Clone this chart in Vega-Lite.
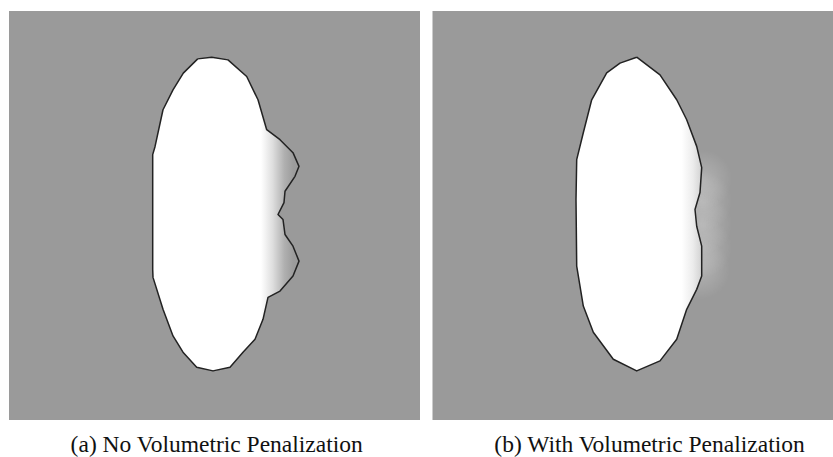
{
  "$schema": "https://vega.github.io/schema/vega-lite/v6.json",
  "width": 833,
  "height": 457,
  "autosize": {"type": "fit", "contains": "padding"},
  "padding": 0,
  "background": "white",
  "config": {"view": {"stroke": null}},
  "datasets": {
    "panels": [
      {"panel": "a", "x": 9, "x2": 420, "y": 11, "y2": 421},
      {"panel": "b", "x": 432.5, "x2": 833, "y": 11, "y2": 421}
    ],
    "halo": [
      {"x": 672, "x2": 732, "y": 150, "y2": 210},
      {"x": 672, "x2": 732, "y": 172, "y2": 232},
      {"x": 672, "x2": 732, "y": 195, "y2": 255},
      {"x": 672, "x2": 732, "y": 218, "y2": 278},
      {"x": 670, "x2": 730, "y": 240, "y2": 300}
    ],
    "shapeA": [
      {"i": 0, "x": 197.7, "y": 59},
      {"i": 1, "x": 211.7, "y": 57.3},
      {"i": 2, "x": 228, "y": 60},
      {"i": 3, "x": 246.7, "y": 76.7},
      {"i": 4, "x": 258, "y": 100},
      {"i": 5, "x": 266.7, "y": 130},
      {"i": 6, "x": 280, "y": 140},
      {"i": 7, "x": 293, "y": 153},
      {"i": 8, "x": 299, "y": 166.7},
      {"i": 9, "x": 295, "y": 176.7},
      {"i": 10, "x": 285, "y": 191.7},
      {"i": 11, "x": 284, "y": 203},
      {"i": 12, "x": 278, "y": 215},
      {"i": 13, "x": 283, "y": 220},
      {"i": 14, "x": 285, "y": 235},
      {"i": 15, "x": 293, "y": 246.7},
      {"i": 16, "x": 299, "y": 261.7},
      {"i": 17, "x": 293, "y": 276.7},
      {"i": 18, "x": 280, "y": 291.7},
      {"i": 19, "x": 268, "y": 298},
      {"i": 20, "x": 263, "y": 320},
      {"i": 21, "x": 255, "y": 340},
      {"i": 22, "x": 243, "y": 353},
      {"i": 23, "x": 230, "y": 368},
      {"i": 24, "x": 213, "y": 371.7},
      {"i": 25, "x": 196.7, "y": 368},
      {"i": 26, "x": 183, "y": 353},
      {"i": 27, "x": 173, "y": 336.7},
      {"i": 28, "x": 163, "y": 310},
      {"i": 29, "x": 153, "y": 278},
      {"i": 30, "x": 152.7, "y": 270},
      {"i": 31, "x": 152.7, "y": 155},
      {"i": 32, "x": 155, "y": 147},
      {"i": 33, "x": 163, "y": 110},
      {"i": 34, "x": 173, "y": 90},
      {"i": 35, "x": 183.3, "y": 73.3},
      {"i": 36, "x": 197.7, "y": 59}
    ],
    "shapeB": [
      {"i": 0, "x": 636.7, "y": 57.3},
      {"i": 1, "x": 660, "y": 75},
      {"i": 2, "x": 676.7, "y": 100},
      {"i": 3, "x": 686.7, "y": 120},
      {"i": 4, "x": 696.7, "y": 146.7},
      {"i": 5, "x": 701.7, "y": 168},
      {"i": 6, "x": 700, "y": 193},
      {"i": 7, "x": 695, "y": 210},
      {"i": 8, "x": 696.7, "y": 226.7},
      {"i": 9, "x": 701.7, "y": 246.7},
      {"i": 10, "x": 701.7, "y": 276.7},
      {"i": 11, "x": 696.7, "y": 290},
      {"i": 12, "x": 686.7, "y": 310},
      {"i": 13, "x": 676.7, "y": 340},
      {"i": 14, "x": 660, "y": 361.7},
      {"i": 15, "x": 636.7, "y": 371.7},
      {"i": 16, "x": 613.3, "y": 360},
      {"i": 17, "x": 593.3, "y": 333},
      {"i": 18, "x": 583.3, "y": 306.7},
      {"i": 19, "x": 576.7, "y": 266.7},
      {"i": 20, "x": 576, "y": 200},
      {"i": 21, "x": 576.7, "y": 160},
      {"i": 22, "x": 583.3, "y": 133},
      {"i": 23, "x": 591.7, "y": 100},
      {"i": 24, "x": 606.7, "y": 73},
      {"i": 25, "x": 620, "y": 63.3},
      {"i": 26, "x": 636.7, "y": 57.3}
    ],
    "captions": [
      {"x": 216.7, "y": 453, "text": "(a) No Volumetric Penalization"},
      {"x": 649.5, "y": 453, "text": "(b) With Volumetric Penalization"}
    ]
  },
  "layer": [
    {
      "data": {"name": "panels"},
      "mark": {"type": "rect", "fill": "#9a9a9a"},
      "encoding": {
        "x": {"field": "x", "type": "quantitative", "scale": {"domain": [0, 833], "nice": false, "zero": false}, "axis": null},
        "x2": {"field": "x2"},
        "y": {"field": "y", "type": "quantitative", "scale": {"domain": [0, 457], "nice": false, "zero": false, "reverse": true}, "axis": null},
        "y2": {"field": "y2"}
      }
    },
    {
      "data": {"name": "halo"},
      "mark": {
        "type": "rect",
        "fill": {
          "gradient": "radial",
          "x1": 0.5, "y1": 0.5, "r1": 0,
          "x2": 0.5, "y2": 0.5, "r2": 0.5,
          "stops": [
            {"offset": 0, "color": "rgba(255,255,255,0.22)"},
            {"offset": 0.5, "color": "rgba(255,255,255,0.12)"},
            {"offset": 1, "color": "rgba(255,255,255,0)"}
          ]
        }
      },
      "encoding": {
        "x": {"field": "x", "type": "quantitative", "axis": null},
        "x2": {"field": "x2"},
        "y": {"field": "y", "type": "quantitative", "axis": null},
        "y2": {"field": "y2"}
      }
    },
    {
      "data": {"name": "shapeA"},
      "mark": {
        "type": "line",
        "stroke": "#222222",
        "strokeWidth": 1.5,
        "strokeJoin": "round",
        "fill": {
          "gradient": "linear",
          "x1": 0, "y1": 0, "x2": 1, "y2": 0,
          "stops": [
            {"offset": 0, "color": "#ffffff"},
            {"offset": 0.74, "color": "#ffffff"},
            {"offset": 0.82, "color": "#dedede"},
            {"offset": 0.9, "color": "#b0b0b0"},
            {"offset": 0.96, "color": "#9c9c9c"},
            {"offset": 1, "color": "#9a9a9a"}
          ]
        }
      },
      "encoding": {
        "x": {"field": "x", "type": "quantitative", "axis": null},
        "y": {"field": "y", "type": "quantitative", "axis": null},
        "order": {"field": "i", "type": "quantitative"}
      }
    },
    {
      "data": {"name": "shapeB"},
      "mark": {
        "type": "line",
        "stroke": "#222222",
        "strokeWidth": 1.5,
        "strokeJoin": "round",
        "fill": {
          "gradient": "linear",
          "x1": 0, "y1": 0, "x2": 1, "y2": 0,
          "stops": [
            {"offset": 0, "color": "#ffffff"},
            {"offset": 0.84, "color": "#ffffff"},
            {"offset": 0.93, "color": "#ececec"},
            {"offset": 1, "color": "#d2d2d2"}
          ]
        }
      },
      "encoding": {
        "x": {"field": "x", "type": "quantitative", "axis": null},
        "y": {"field": "y", "type": "quantitative", "axis": null},
        "order": {"field": "i", "type": "quantitative"}
      }
    },
    {
      "data": {"name": "captions"},
      "mark": {"type": "text", "font": "'Liberation Serif', 'Times New Roman', Times, serif", "fontSize": 23.5, "align": "center", "baseline": "alphabetic", "color": "#111111"},
      "encoding": {
        "x": {"field": "x", "type": "quantitative", "axis": null},
        "y": {"field": "y", "type": "quantitative", "axis": null},
        "text": {"field": "text"}
      }
    }
  ]
}
